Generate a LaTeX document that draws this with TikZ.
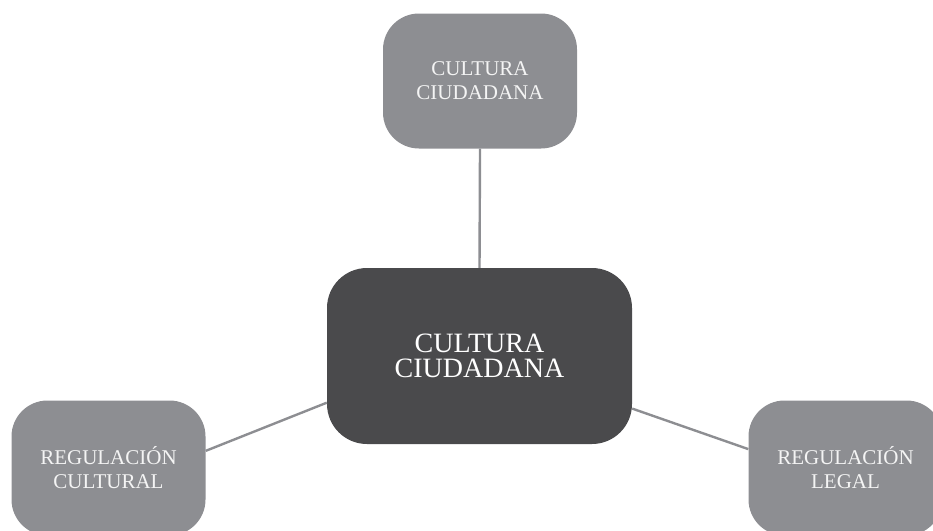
\documentclass[tikz,border=0pt]{standalone}
\usepackage{fontspec}
\setmainfont{Liberation Serif}
\definecolor{ramogray}{HTML}{8D8E92}
\definecolor{centrogray}{HTML}{4A4A4C}
\definecolor{letragray}{HTML}{F4F4F4}

\begin{document}
\begin{tikzpicture}[x=1pt, y=-1pt, every node/.style={align=center, inner sep=0},
  ramo/.style={fill=ramogray, text=letragray, rounded corners=36pt,
    minimum width=194pt, minimum height=135pt, font=\fontsize{21}{24}\selectfont},
  nucleo/.style={fill=centrogray, text=white, rounded corners=40pt,
    minimum width=305pt, minimum height=176pt, font=\fontsize{28}{25}\selectfont},
  enlace/.style={draw=ramogray, line width=2.4pt}]
  \useasboundingbox (0,0) rectangle (933,530);

  \node[nucleo]
    (centro) at (479.5, 356) {CULTURA\\CIUDADANA};

  \node[ramo]
    (cultura) at (480, 81) {CULTURA\\CIUDADANA};

  \node[ramo]
    (cultural) at (108.5, 468) {REGULACIÓN\\CULTURAL};

  \node[ramo]
    (legal) at (845.5, 468) {REGULACIÓN\\LEGAL};

  \draw[enlace]
    (cultura.south)  -- (centro.north)
    (cultural.10.5)  -- (centro.197)
    (centro.341.5)   -- (legal.169.5);
\end{tikzpicture}
\end{document}
